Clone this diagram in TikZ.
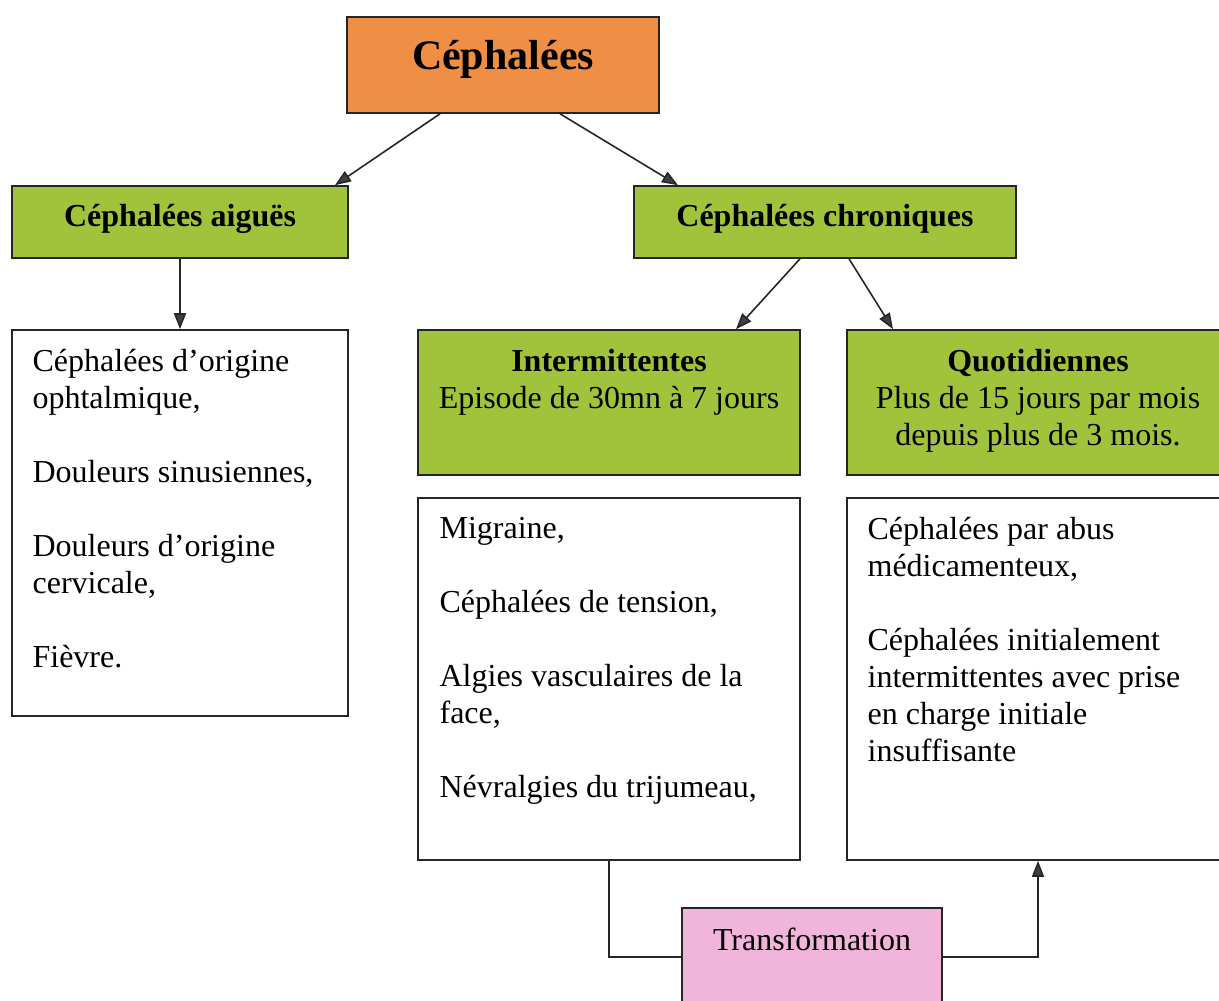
\documentclass[tikz,border=0pt]{standalone}
\usepackage{fontspec}
\setmainfont{Liberation Serif}
\usetikzlibrary{arrows.meta,positioning}
\definecolor{headorange}{HTML}{EE8F45}
\definecolor{leafgreen}{HTML}{A0C33B}
\definecolor{transpink}{HTML}{F1B5DB}
\tikzset{
  box/.style={draw=black!85,line width=0.8pt,inner sep=0pt,minimum width=191pt},
  head/.style={box,fill=leafgreen,anchor=base,text height=20.5pt,text depth=15.5pt,
    font=\bfseries\fontsize{16}{18.5}\selectfont},
  listtext/.style={anchor=north west,inner sep=0pt,align=left,font=\fontsize{16}{18.5}\selectfont},
  headtext/.style={anchor=north,inner sep=0pt,align=center,font=\fontsize{16}{18.5}\selectfont},
  arr/.style={line width=0.8pt,draw=black!85,-{Triangle[length=8pt,width=6pt,fill=black!75]}}
}
\begin{document}
\begin{tikzpicture}[x=0.5pt,y=-0.5pt]
\useasboundingbox (0,0) rectangle (1219,1000);
% top level
\node[box,fill=headorange,minimum width=156pt,anchor=base,text height=26.5pt,text depth=21.5pt,
  font=\bfseries\fontsize{21}{24}\selectfont] (root) at (503,70) {Céphalées};
\node[head,minimum width=168pt] (acute) at (180,227) {Céphalées aiguës};
\node[head] (chronic) at (825,227) {Céphalées chroniques};
% boxes
\node[box,minimum width=168pt,minimum height=193pt] (acutelist) at (180,523) {};
\node[box,fill=leafgreen,minimum height=72.5pt] (inter) at (609,402.5) {};
\node[box,fill=leafgreen,minimum height=72.5pt] (daily) at (1038,402.5) {};
\node[box,minimum height=181pt] (interlist) at (609,679) {};
\node[box,minimum height=181pt] (dailylist) at (1038,679) {};
\node[box,fill=transpink,minimum width=130pt,anchor=base,text height=21pt,text depth=28pt,
  font=\fontsize{16}{18.5}\selectfont] (trans) at (812,950) {Transformation};
% texts
\node[headtext] (intertxt) at ([yshift=-10pt]inter.north)
  {\textbf{Intermittentes}\\ Episode de 30mn à 7 jours};
\node[headtext] (dailytxt) at ([yshift=-10pt]daily.north)
  {\textbf{Quotidiennes}\\ Plus de 15 jours par mois\\ depuis plus de 3 mois.};
\node[listtext] (acutetxt) at ([xshift=10.5pt,yshift=-10pt]acutelist.north west)
  {Céphalées d’origine\\ ophtalmique,\\[18.5pt] Douleurs sinusiennes,\\[18.5pt]
   Douleurs d’origine\\ cervicale,\\[18.5pt] Fièvre.};
\node[listtext] (intertxtb) at ([xshift=11pt,yshift=-10pt]interlist.north west)
  {Migraine,\\[18.5pt] Céphalées de tension,\\[18.5pt] Algies vasculaires de la\\ face,\\[18.5pt]
   Névralgies du trijumeau,};
\node[listtext] (dailytxtb) at ([xshift=10.5pt,yshift=-10pt]dailylist.north west)
  {Céphalées par abus\\ médicamenteux,\\[18.5pt] Céphalées initialement\\ intermittentes avec prise\\
   en charge initiale\\ insuffisante};
% connectors
\draw[arr] ([xshift=-31.5pt]root.south) -- ([xshift=77.5pt]acute.north);
\draw[arr] ([xshift=28.5pt]root.south) -- ([xshift=-73.5pt]chronic.north);
\draw[arr] (acute.south) -- (acutelist.north);
\draw[arr] ([xshift=-12.5pt]chronic.south) -- ([xshift=63.5pt]inter.north);
\draw[arr] ([xshift=12pt]chronic.south) -- ([xshift=-72.5pt]daily.north);
\draw[line width=0.8pt,draw=black!85] (interlist.south) |- (trans.west);
\draw[arr] (trans.east) -| (dailylist.south);
\end{tikzpicture}
\end{document}
